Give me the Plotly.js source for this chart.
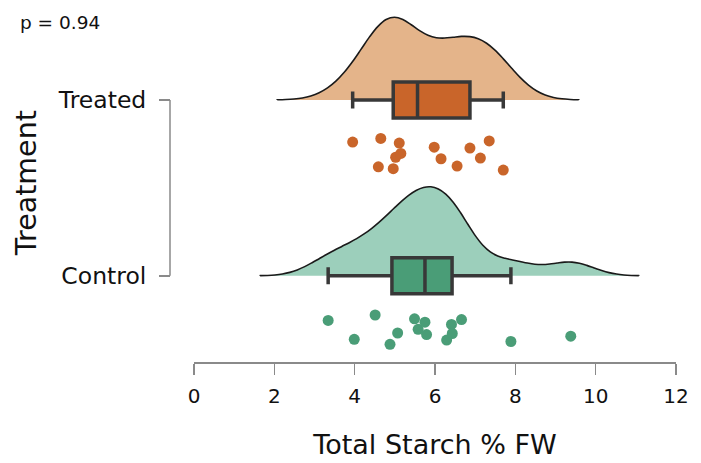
<!DOCTYPE html>
<html><head><meta charset="utf-8">
<script src="https://cdn.plot.ly/plotly-3.0.1.min.js"></script>
<style>html,body{margin:0;padding:0;background:#fff}#chart{width:701px;height:463px}</style>
</head><body><div id="chart"></div>
<script>
// ---- data ----
const categories = ['Control', 'Treated'];
const controlValues = [3.34, 3.99, 4.51, 4.88, 5.07, 5.49, 5.58, 5.75, 5.79, 6.29, 6.41, 6.43, 6.66, 7.89, 9.38];
const treatedValues = [3.95, 4.59, 4.65, 4.96, 5.02, 5.11, 5.15, 5.98, 6.15, 6.55, 6.87, 7.13, 7.35, 7.70];
const xTickValues = [0, 2, 4, 6, 8, 10, 12];
const pValueLabel = 'p = 0.94';
const xTitle = 'Total Starch % FW';
const yTitle = 'Treatment';

// ---- helpers: R-style nrd0 bandwidth so the density matches ----
function quantile7(sorted, p) {
  const h = (sorted.length - 1) * p, lo = Math.floor(h), hi = Math.ceil(h);
  return sorted[lo] + (h - lo) * (sorted[hi] - sorted[lo]);
}
function nrd0(vals) {
  const s = vals.slice().sort((a, b) => a - b), n = s.length;
  const mean = s.reduce((a, b) => a + b, 0) / n;
  const sd = Math.sqrt(s.reduce((a, b) => a + (b - mean) * (b - mean), 0) / (n - 1));
  const iqr = quantile7(s, 0.75) - quantile7(s, 0.25);
  return 0.9 * Math.min(sd, iqr / 1.34) * Math.pow(n, -0.2);
}

const groups = [
  {name: categories[0], vals: controlValues, light: '#9ccfbb', dark: '#4a9d77', vwidth: 1.012},
  {name: categories[1], vals: treatedValues, light: '#e4b48a', dark: '#c9652a', vwidth: 0.94}
];

const traces = [];
groups.forEach(g => {
  const bw = nrd0(g.vals);
  const mn = Math.min(...g.vals), mx = Math.max(...g.vals);
  traces.push({
    type: 'violin', orientation: 'h',
    x: g.vals, y: g.vals.map(() => g.name),
    side: 'positive', width: g.vwidth, scalemode: 'width',
    bandwidth: bw, spanmode: 'manual', span: [mn - 3 * bw, mx + 3 * bw],
    points: false, box: {visible: false}, meanline: {visible: false},
    fillcolor: g.light, line: {color: '#1a1a1a', width: 1.6},
    hoverinfo: 'skip', showlegend: false
  });
});
groups.forEach(g => {
  traces.push({
    type: 'box', orientation: 'h',
    x: g.vals, y: g.vals.map(() => g.name),
    quartilemethod: 'linear',
    boxpoints: 'outliers',
    width: 0.205, whiskerwidth: 0.47,
    fillcolor: g.dark, line: {color: '#383838', width: 3.5},
    marker: {color: 'rgba(0,0,0,0)', size: 1, line: {width: 0}},
    hoverinfo: 'skip', showlegend: false
  });
});
// jittered raw data points below each box (library jitter)
groups.forEach(g => {
  traces.push({
    type: 'box', orientation: 'h',
    x: g.vals, y: g.vals.map(() => g.name),
    boxpoints: 'all', jitter: 0.63, pointpos: -2.41,
    width: 0.4, whiskerwidth: 0,
    fillcolor: 'rgba(0,0,0,0)', line: {color: 'rgba(0,0,0,0)', width: 0},
    marker: {color: g.dark, size: 11, line: {width: 0}},
    hoverinfo: 'skip', showlegend: false
  });
});

const axisGrey = '#8a8a8a';
const layout = {
  width: 701, height: 463,
  margin: {l: 170, r: 25, t: 12, b: 101},
  paper_bgcolor: '#fff', plot_bgcolor: '#fff',
  showlegend: false,
  boxmode: 'overlay', violinmode: 'overlay',
  font: {family: 'DejaVu Sans', color: '#111'},
  xaxis: {
    domain: [24 / 506, 1], range: [0, 12], tickvals: xTickValues,
    ticks: 'outside', ticklen: 11, tickwidth: 1.5, tickcolor: axisGrey,
    showline: true, linecolor: axisGrey, linewidth: 1.5,
    showgrid: false, zeroline: false, ticklabelstandoff: 4,
    tickfont: {size: 20, color: '#111'},
    title: {text: xTitle, font: {size: 27, color: '#111'}}
  },
  yaxis: {
    type: 'category', categoryorder: 'array', categoryarray: categories,
    range: [-0.49, 1.5], anchor: 'free', position: 0,
    ticks: 'outside', ticklen: 11, tickwidth: 1.5, tickcolor: axisGrey,
    showline: false, showgrid: false, zeroline: false,
    tickfont: {size: 23.5, color: '#111'}, ticklabelstandoff: 8
  },
  shapes: [{type: 'line', xref: 'paper', yref: 'y', x0: 0, x1: 0,
            y0: categories[0], y1: categories[1],
            line: {color: axisGrey, width: 1.5}}],
  annotations: [
    {text: pValueLabel, xref: 'paper', yref: 'paper',
     x: -0.3004, y: 0.971, xanchor: 'left', yanchor: 'middle',
     showarrow: false, font: {size: 18.5, color: '#111'}},
    {text: yTitle, xref: 'paper', yref: 'paper', textangle: -90,
     x: -0.2846, y: 0.511, xanchor: 'center', yanchor: 'middle',
     showarrow: false, font: {size: 28.5, color: '#111'}}
  ]
};
Plotly.newPlot('chart', traces, layout, {staticPlot: true, displayModeBar: false});
</script></body></html>
